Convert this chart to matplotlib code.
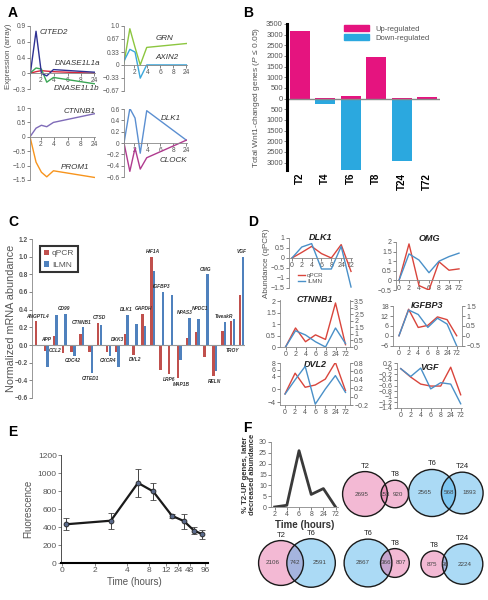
import numpy as np
import matplotlib
matplotlib.use('Agg')
import matplotlib.pyplot as plt
from matplotlib.patches import Circle, Patch
from matplotlib.ticker import FuncFormatter

plt.rcParams['font.family'] = ['Liberation Sans', 'DejaVu Sans']
plt.rcParams['mathtext.fontset'] = 'custom'
plt.rcParams['mathtext.it'] = 'Liberation Sans:italic'
plt.rcParams['mathtext.rm'] = 'Liberation Sans'

# ---- panel A: array expression
a_x = [0.2, 0.65, 1.05, 1.45, 1.95, 5.0]
a_ticklabels = ['2', '4', '6', '8', '24']
cited2 = [-0.05, 0.80, 0.00, -0.05, 0.07, 0.02]
dnase1l1a = [0.0, 0.03, 0.05, 0.04, 0.03, 0.0]
dnase1l1b = [0.0, 0.10, 0.08, -0.17, -0.08, -0.20]
grn = [0.05, 0.93, 0.45, 0.0, 0.45, 0.55]
axin2 = [0.1, 0.40, 0.33, -0.34, 0.0, 0.0]
ctnnb1_a = [0, 0.30, 0.40, 0.35, 0.50, 0.80]
prom1 = [0, -0.88, -1.23, -1.39, -1.18, -1.41]
dlk1_a = [0, 0.61, 0.44, -0.18, 0.57, 0.05]
clock = [0, -0.50, -0.09, -0.46, -0.26, 0.05]

# ---- panel B: Wnt1-changed genes
b_times = ['T2', 'T4', 'T6', 'T8', 'T24', 'T72']
b_up = [3180, 10, 100, 1950, 10, 70]
b_down = [60, 270, 3350, 30, 2950, 10]

# ---- panel C: qPCR vs ILMN
c_genes = ['ANGPTL4', 'APP', 'CCL2', 'CD99', 'CDC42', 'CTNNB1', 'CITED1', 'CTSD',
           'CXCR4', 'DKK3', 'DLK1', 'DVL2', 'GAPDH', 'HIF1A', 'IGFBP3', 'LRP6',
           'MAP1B', 'NPAS3', 'NPDC1', 'OMG', 'RELN', 'TweakR', 'TROY', 'VGF']
c_qpcr = [0.27, -0.07, 0.10, -0.09, -0.08, 0.12, -0.08, 0.25, -0.08, -0.08, 0.13, -0.11,
          0.35, 1.00, -0.28, -0.33, -0.37, 0.08, 0.15, -0.14, -0.35, 0.16, 0.27, 0.57]
c_ilmn = [0.0, -0.25, 0.34, 0.35, -0.12, 0.20, -0.32, 0.23, -0.12, -0.25, 0.34, 0.24,
          0.22, 0.84, 0.60, 0.57, -0.17, 0.31, 0.30, 0.80, -0.29, 0.26, 0.30, 1.00]
c_side = ['up', 'up', 'down', 'up', 'down', 'up', 'down', 'up', 'down', 'up', 'up', 'down',
          'up', 'up', 'up', 'down', 'down', 'up', 'up', 'up', 'down', 'up', 'down', 'up']
c_nudge = {'NPAS3': (-0.4, 0.0), 'NPDC1': (0.3, 0.06), 'LRP6': (-0.2, 0.0), 'MAP1B': (0.2, -0.02)}

# ---- panel D: time courses
d_labels = ['0', '2', '4', '6', '8', '24', '72']
dlk1_q = [0, 0.28, 0.58, 0.22, 0.0, 0.67, -0.67]
dlk1_i = [0, 0.55, 0.72, -0.55, -0.55, 0.58, -1.45]
omg_q = [0, 1.9, -0.27, -0.5, 0.97, 0.53, 0.6]
omg_i = [0, 1.38, 1.06, 0.4, 1.0, 1.24, 1.42]
ctnnb1_q = [0, 0.83, 0.23, 0.53, 0.33, 1.92, 0.1]
ctnnb1_i = [0, 1.24, 0.92, 0.4, 0.0, 1.45, 0.26]
igfbp3_q = [0, 16.3, 5.1, 6.4, 11.6, 9.9, 0]
igfbp3_i = [0, 1.32, 1.09, 0.43, 0.9, 0.6, -0.52]
dvl2_q = [-1.4, 4.9, 0.6, 1.3, 3.1, 8.2, -0.4]
dvl2_i = [0.06, 0.4, 0.72, -0.18, 0.18, 0.5, 0.1]
vgf_q = [0, -0.3, -0.55, -0.62, -0.62, 0.05, -0.93]
vgf_i = [0, -0.28, 0.02, -0.72, -0.5, -0.55, -1.25]

# ---- panel E: fluorescence
e_tick_vals = [0, 2, 4, 8, 12, 24, 48, 96]
e_tick_pos = [0, 1, 1.97, 2.64, 3.14, 3.52, 3.87, 4.34]
e_time = [0.25, 3, 6, 9, 18, 36, 61, 87]
e_val = [430, 470, 890, 795, 525, 465, 360, 320]
e_err = [65, 90, 155, 90, 20, 85, 40, 50]

# ---- panel F
f_labels = ['2', '4', '6', '8', '24', '72']
f_pct = [0, 0.8, 26, 5.8, 8.5, 0]
venn_sets = [('T2', 'T8'), ('T6', 'T24'), ('T2', 'T6'), ('T6', 'T8'), ('T8', 'T24')]
venn_counts = [(2695, 153, 920), (2565, 568, 1893), (2106, 742, 2591), (2867, 366, 807), (875, 96, 2224)]

W, H = 488, 600
fig = plt.figure(figsize=(W / 100, H / 100), dpi=100)
GREY = '#555555'


def box(l, t, r, b):
    return fig.add_axes([l / W, 1 - b / H, (r - l) / W, (b - t) / H])


fmt = FuncFormatter(lambda v, p: f'{v:g}'.replace('-', '\u2212'))


def ticksize(ax, size=5):
    ax.tick_params(labelsize=size, colors=GREY, length=2, width=0.5, pad=1)
    for s in ax.spines.values():
        s.set_color('#888888')
        s.set_linewidth(0.6)


# overlay for venn diagrams
vax = fig.add_axes([0, 0, 1, 1])
vax.set_xlim(0, W)
vax.set_ylim(H, 0)
vax.axis('off')

# ---------------- A
def a_panel(ax, ylim, yticks, ylabels):
    ax.set_xlim(0.2, 5.05)
    ax.set_ylim(*ylim)
    ax.spines['top'].set_visible(False)
    ax.spines['right'].set_visible(False)
    ax.spines['bottom'].set_position(('data', 0))
    ax.set_xticks([1, 2, 3, 4, 5])
    ax.set_xticklabels(a_ticklabels)
    ax.set_yticks(yticks)
    ax.set_yticklabels(ylabels)
    ticksize(ax, 4.8)


lbl = dict(fontsize=5.8, style='italic', color='#333333')
ax = box(30, 26, 95, 89)
ax.plot(a_x, dnase1l1a, color='#D7263D', lw=1)
ax.plot(a_x, dnase1l1b, color='#3AA655', lw=1)
ax.plot(a_x, cited2, color='#2E3192', lw=1)
a_panel(ax, (-0.3, 0.9), [-0.3, 0, 0.3, 0.6, 0.9], ['\u22120.3', '0', '0.4', '0.6', '0.9'])
ax.text(0.95, 0.75, 'CITED2', **lbl)
ax.text(2.07, 0.16, 'DNASE1L1a', **lbl)
ax.text(2.0, -0.3, 'DNASE1L1b', va='center', **lbl)
fig.text(9 / W, 1 - 56 / H, 'Expression (array)', rotation=90, ha='center', va='center', fontsize=5.8, color=GREY)

ax = box(124, 26, 187, 91)
ax.plot(a_x, grn, color='#8CC63F', lw=1)
ax.plot(a_x, axin2, color='#3BA7DB', lw=1)
a_panel(ax, (-0.67, 1.0), [-0.67, -0.33, 0, 0.33, 0.67, 1.0],
        ['\u22120.67', '\u22120.33', '0', '0.33', '0.67', '1.0'])
ax.text(2.6, 0.63, 'GRN', **lbl)
ax.text(2.6, 0.16, 'AXIN2', **lbl)

ax = box(30, 108, 95, 180)
ax.plot(a_x, ctnnb1_a, color='#7F6BB8', lw=1)
ax.plot(a_x, prom1, color='#F7941D', lw=1)
a_panel(ax, (-1.5, 1.0), [-1.5, -1.0, -0.5, 0, 0.5, 1.0],
        ['\u22121.5', '\u22121.0', '\u22120.5', '0', '0.5', '1.0'])
ax.text(2.7, 0.82, 'CTNNB1', **lbl)
ax.text(2.5, -1.12, 'PROM1', **lbl)

ax = box(124, 109, 187, 177)
ax.plot(a_x, dlk1_a, color='#5B8FD1', lw=1)
ax.plot(a_x, clock, color='#B03B8F', lw=1)
a_panel(ax, (-0.6, 0.6), [-0.6, -0.4, -0.2, 0, 0.2, 0.4, 0.6],
        ['\u22120.6', '\u22120.4', '\u22120.2', '0', '0.2', '0.4', '0.6'])
ax.text(3.0, 0.41, 'DLK1', **lbl)
ax.text(2.95, -0.34, 'CLOCK', **lbl)

# ---------------- B
ax = box(287, 24, 440, 170)
xb = np.arange(len(b_times))
ax.bar(xb, b_up, width=0.78, color='#E5147F', label='Up-regulated')
ax.bar(xb, -np.array(b_down), width=0.78, color='#2BA8DF', label='Down-regulated')
ax.axhline(0, color='#888888', lw=1)
ax.set_xlim(-0.5, 5.5)
ax.set_ylim(-3350, 3500)
ax.set_yticks(np.arange(-3000, 3501, 500))
ax.yaxis.set_major_formatter(FuncFormatter(lambda v, p: f'{abs(int(v))}'))
ticksize(ax, 5.5)
ax.tick_params(axis='x', length=0)
for s in ['top', 'right', 'bottom']:
    ax.spines[s].set_visible(False)
ax.spines['left'].set_color('black')
ax.spines['left'].set_linewidth(2.2)
ax.set_xticks(xb)
ax.set_xticklabels(b_times, rotation=90, fontweight='bold', fontsize=7, color='black')
ax.tick_params(axis='x', pad=2)
ax.set_ylabel('Total Wnt1-changed genes ($\\mathit{P}$ \u2264 0.05)', fontsize=6, color=GREY, labelpad=3)
ax.legend(handles=[Patch(color='#E5147F', label='Up-regulated'), Patch(color='#2BA8DF', label='Down-regulated')],
          loc='upper left', bbox_to_anchor=(0.33, 1.04), frameon=False, fontsize=5.5,
          handlelength=3.2, handleheight=0.8, labelspacing=0.2, labelcolor=GREY)

# ---------------- C
ax = box(32, 239, 245, 398)
xc = np.arange(len(c_genes))
ax.bar(xc - 0.15, c_qpcr, width=0.28, color='#C0504D', label='qPCR')
ax.bar(xc + 0.15, c_ilmn, width=0.28, color='#4F81BD', label='ILMN')
ax.axhline(0, color='#999999', lw=0.8)
ax.set_xlim(-0.62, 23.4)
ax.set_ylim(-0.6, 1.2)
ax.set_yticks(np.arange(-0.6, 1.21, 0.2))
ax.yaxis.set_major_formatter(FuncFormatter(lambda v, p: f'{v:.1f}'.replace('-', '\u2212')))
ax.set_xticks([])
for s in ['top', 'right', 'bottom']:
    ax.spines[s].set_visible(False)
ticksize(ax, 4.8)
for t in ax.get_yticklabels():
    t.set_fontweight('bold')
for g, q, i, side, x in zip(c_genes, c_qpcr, c_ilmn, c_side, xc):
    dx, dy = c_nudge.get(g, (0, 0))
    if side == 'up':
        ax.text(x + dx, max(q, i, 0) + 0.03 + dy, g, ha='center', va='bottom', fontsize=3.5,
                fontweight='bold', style='italic', color='#333333')
    else:
        ax.text(x + dx, min(q, i, 0) - 0.03 + dy, g, ha='center', va='top', fontsize=3.5,
                fontweight='bold', style='italic', color='#333333')
fig.text(11 / W, 1 - 318 / H, 'Normalized mRNA abundance', rotation=90, ha='center', va='center',
         fontsize=7.8, color=GREY)
leg = ax.legend(loc='upper left', bbox_to_anchor=(0.02, 0.98), fontsize=6, handlelength=0.6,
                handleheight=0.6, handletextpad=0.4, borderpad=0.4, fancybox=False, labelcolor=GREY)
leg.get_frame().set_edgecolor('black')
leg.get_frame().set_linewidth(1.5)

# ---------------- D
RED, BLUE = '#D9453C', '#4A90C8'
xd = np.arange(len(d_labels))


def d_panel(b, name, xl, ylim, yticks, q, i, zero=False, twin=None, title_y=1.0):
    ax = box(*b)
    ax.set_xlim(*xl)
    ax.set_ylim(*ylim)
    ax.set_yticks(yticks)
    ax.yaxis.set_major_formatter(fmt)
    ax.set_xticks(xd)
    ax.set_xticklabels(d_labels)
    ax.spines['top'].set_visible(False)
    ax.spines['right'].set_visible(False)
    if zero:
        ax.spines['bottom'].set_position(('data', 0))
    ticksize(ax, 5)
    ax.plot(xd, q, color=RED, lw=1, label='qPCR')
    if twin is None:
        ax.plot(xd, i, color=BLUE, lw=1, label='ILMN')
    else:
        ax2 = ax.twinx()
        ax2.set_ylim(*twin[0])
        ax2.set_yticks(twin[1])
        ax2.yaxis.set_major_formatter(fmt)
        ax2.spines['top'].set_visible(False)
        ax2.spines['left'].set_visible(False)
        ax2.spines['bottom'].set_visible(False)
        ticksize(ax2, 5)
        ax2.plot(xd, i, color=BLUE, lw=1)
    ax.text(0.5, title_y, name, transform=ax.transAxes, ha='center', va='center',
            fontsize=6.5, fontweight='bold', style='italic', color='#222222')
    return ax


ax = d_panel((289, 238, 352, 288), 'DLK1', (-0.3, 6.1), (-1.5, 1.0), [-1.5, -1, -0.5, 0, 0.5, 1],
             dlk1_q, dlk1_i, zero=True)
ax.legend(loc='lower left', bbox_to_anchor=(0.05, -0.03), frameon=False, fontsize=4.5,
          handlelength=1.2, labelspacing=0.05, handletextpad=0.3, labelcolor=GREY)
fig.text(266 / W, 1 - 263 / H, 'Abundance (qPCR)', rotation=90, ha='center', va='center', fontsize=5.8, color=GREY)
d_panel((396, 242, 462, 290), 'OMG', (-0.3, 6.3), (-0.5, 2.0), [-0.5, 0, 0.5, 1, 1.5, 2],
        omg_q, omg_i, zero=True, title_y=1.07)
d_panel((280, 300, 350, 347), 'CTNNB1', (-0.55, 6.45), (0, 2.05), [0, 0.5, 1, 1.5, 2],
        ctnnb1_q, ctnnb1_i, twin=((0, 3.59), [0, 0.5, 1, 1.5, 2, 2.5, 3, 3.5]))
d_panel((393, 306, 462, 346), 'IGFBP3', (-0.62, 6.55), (-6.3, 18.3), [-6, 0, 6, 12, 18],
        igfbp3_q, igfbp3_i, twin=((-0.525, 1.525), [-0.5, 0, 0.5, 1, 1.5]))
d_panel((280, 363, 350, 405), 'DVL2', (-0.5, 6.45), (-4.8, 8), [-4, 0, 4, 6, 8],
        dvl2_q, dvl2_i, twin=((-0.2, 0.8), [-0.2, 0, 0.2, 0.4, 0.6, 0.8]), title_y=0.97)
d_panel((397, 363, 462, 408), 'VGF', (-0.37, 6.13), (-1.4, 0.2), np.round(np.arange(-1.4, 0.21, 0.2), 1),
        vgf_q, vgf_i, title_y=0.9)

# ---------------- E
ax = box(61, 455, 208, 563)
ex = np.interp(e_time, e_tick_vals, e_tick_pos)
ax.errorbar(ex, e_val, yerr=e_err, color='#1a1a1a', lw=1.6, ecolor='#444444', elinewidth=0.7,
            capsize=2, capthick=0.7, marker='o', markersize=3.5, markerfacecolor='#5A6A8A',
            markeredgecolor='#222222', markeredgewidth=0.6)
ax.set_xlim(-0.02, 4.42)
ax.set_ylim(0, 1200)
ax.set_xticks(e_tick_pos)
ax.set_xticklabels([str(v) for v in e_tick_vals])
ax.set_yticks(np.arange(0, 1201, 200))
ax.spines['top'].set_visible(False)
ax.spines['right'].set_visible(False)
ticksize(ax, 6)
ax.spines['bottom'].set_color('black')
ax.spines['bottom'].set_linewidth(1.5)
ax.spines['left'].set_color('#333333')
ax.set_xlabel('Time (hours)', fontsize=7, color=GREY, labelpad=2)
ax.set_ylabel('Fluorescence', fontsize=7, color=GREY, labelpad=3)

# ---------------- F
ax = box(271, 442, 338, 507)
xf = np.arange(len(f_labels))
ax.plot(xf, f_pct, color='#3a3a3a', lw=2)
ax.set_xlim(-0.3, 5.2)
ax.set_ylim(0, 30)
ax.set_xticks(xf)
ax.set_xticklabels(f_labels)
ax.set_yticks(np.arange(0, 31, 5))
ax.spines['top'].set_visible(False)
ax.spines['right'].set_visible(False)
ticksize(ax, 5)
ax.set_xlabel('Time (hours)', fontsize=7, fontweight='bold', color='#333333', labelpad=1)
ax.set_ylabel('% T2-UP genes, later\ndecreased abundance', fontsize=5.6, fontweight='bold',
              color='#333333', labelpad=2, linespacing=0.95)

PINK_C, BLUE_C = '#E664A0', '#46AFEB'
set_color = {'T2': PINK_C, 'T8': PINK_C, 'T6': BLUE_C, 'T24': BLUE_C}
venn_anchor = [(365, 494), (432, 493), (281, 563), (368, 563), (434, 564)]
k = 0.42


def lens(r1, r2, d):
    a1 = np.arccos(np.clip((d * d + r1 * r1 - r2 * r2) / (2 * d * r1), -1, 1))
    a2 = np.arccos(np.clip((d * d + r2 * r2 - r1 * r1) / (2 * d * r2), -1, 1))
    s = max((-d + r1 + r2) * (d + r1 - r2) * (d - r1 + r2) * (d + r1 + r2), 0)
    return r1 * r1 * a1 + r2 * r2 * a2 - 0.5 * np.sqrt(s)


for (s1, s2), (n1, nb, n2), (cx, cy) in zip(venn_sets, venn_counts, venn_anchor):
    r1 = k * np.sqrt(n1 + nb)
    r2 = k * np.sqrt(n2 + nb)
    target = np.pi * k * k * nb
    lo, hi = abs(r1 - r2) + 1e-6, r1 + r2
    for _ in range(60):
        mid = (lo + hi) / 2
        if lens(r1, r2, mid) > target:
            lo = mid
        else:
            hi = mid
    d = (lo + hi) / 2
    x2 = cx + d
    for x, r, s in [(cx, r1, s1), (x2, r2, s2)]:
        vax.add_patch(Circle((x, cy), r, facecolor=set_color[s], alpha=0.45, edgecolor='none'))
    for x, r in [(cx, r1), (x2, r2)]:
        vax.add_patch(Circle((x, cy), r, facecolor='none', edgecolor='#1a1a1a', lw=1))
    tk = dict(fontsize=4.5, color='#444444', ha='center', va='center')
    vax.text((cx - r1 + x2 - r2) / 2, cy, str(n1), **tk)
    vax.text((x2 - r2 + cx + r1) / 2, cy, str(nb), **tk)
    vax.text((cx + r1 + x2 + r2) / 2, cy, str(n2), **tk)
    vax.text(cx, cy - r1 - 2, s1, fontsize=5.5, ha='center', va='bottom', color='#222222')
    vax.text(x2, cy - r2 - 2, s2, fontsize=5.5, ha='center', va='bottom', color='#222222')

# panel letters
for letter, x, y in [('A', 8, 13), ('B', 243, 13), ('C', 8, 222), ('D', 248, 222), ('E', 8, 432), ('F', 243, 428)]:
    fig.text(x / W, 1 - y / H, letter, fontsize=10, fontweight='bold', va='center', ha='left')

fig.savefig('out.png', dpi=100)
